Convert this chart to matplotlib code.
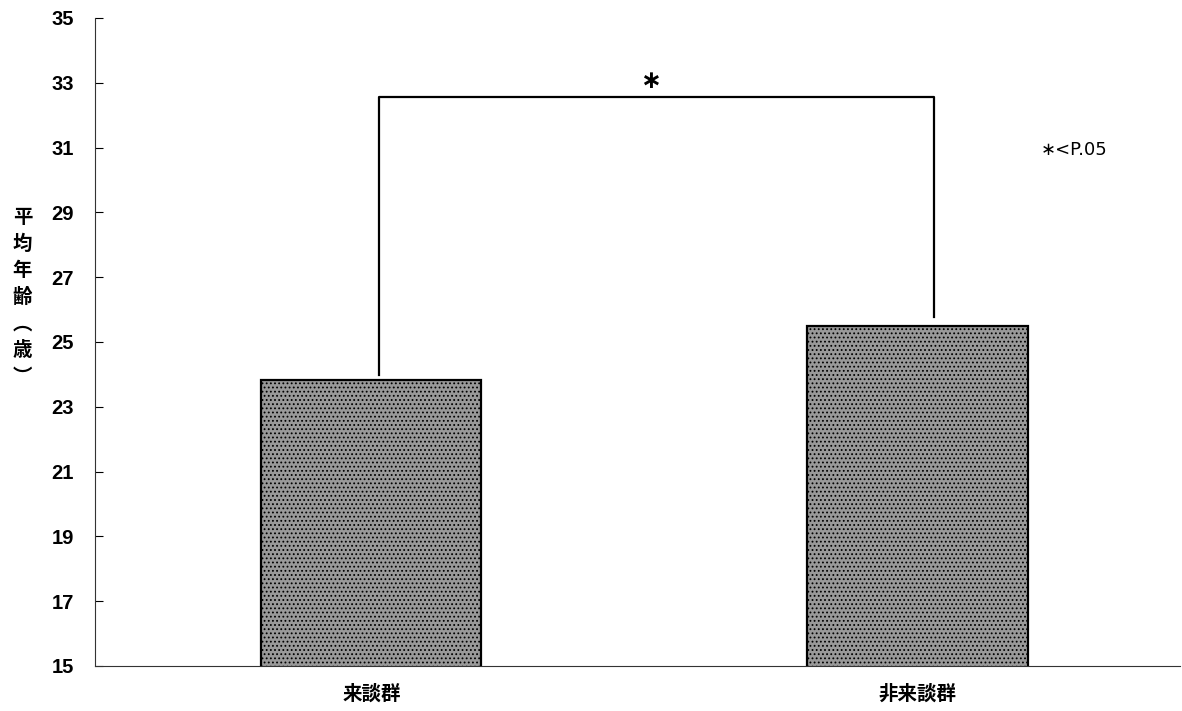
import matplotlib
matplotlib.use("Agg")
import matplotlib.pyplot as plt
import numpy as np

plt.rcParams['font.family'] = ['Liberation Sans', 'Noto Sans CJK JP', 'DejaVu Sans']
plt.rcParams['hatch.color'] = '#d4d4d4'

# data
groups = ["来談群", "非来談群"]
mean_age = [23.83, 25.49]
y_ticks = [15, 17, 19, 21, 23, 25, 27, 29, 31, 33, 35]
bracket_x = [0.013, 1.03]
bracket_low = [23.98, 25.77]
bracket_top = 32.56
ylabel_chars = ["平", "均", "年", "齢", "︵", "歳", "︶"]

fig = plt.figure(figsize=(11.82, 7.11), dpi=100)
ax = fig.add_axes([0.080, 0.0633, 0.918, 0.9114])

x = np.arange(len(groups))
bars = ax.bar(x, mean_age, width=0.403, color="#999999",
              edgecolor="black", linewidth=1.6, hatch="....", zorder=2)
for p in bars:
    p.set_hatch_linewidth(0.8)

ax.set_ylim(15, 35)
ax.set_xlim(-0.507, 1.48)
ax.set_yticks(y_ticks)
ax.set_xticks(x)
ax.set_xticklabels(groups, fontsize=14, fontweight="bold")
ax.tick_params(axis="y", direction="in", length=6, labelsize=14.5, pad=15)
ax.tick_params(axis="x", length=0, pad=13)
for lab in ax.get_yticklabels():
    lab.set_fontweight("bold")

for s in ["top", "right"]:
    ax.spines[s].set_visible(False)
ax.spines["left"].set_color("#333333")
ax.spines["bottom"].set_color("#333333")

# significance bracket
ax.plot([bracket_x[0], bracket_x[0], bracket_x[1], bracket_x[1]],
        [bracket_low[0], bracket_top, bracket_top, bracket_low[1]],
        color="black", linewidth=1.6, zorder=3)
ax.text(0.511, 33.05, "∗", ha="center", va="center", fontsize=18,
        fontweight="bold", family=["DejaVu Sans"])
ax.text(1.287, 30.93, "∗<P.05", ha="center", va="center", fontsize=13,
        family=["DejaVu Sans"])

fig.text(0.019, 0.582, "\n".join(ylabel_chars), ha="center", va="center",
         fontsize=14, fontweight="bold", linespacing=1.5,
         family=["Noto Sans CJK JP"])

fig.savefig("out.png", dpi=100)
